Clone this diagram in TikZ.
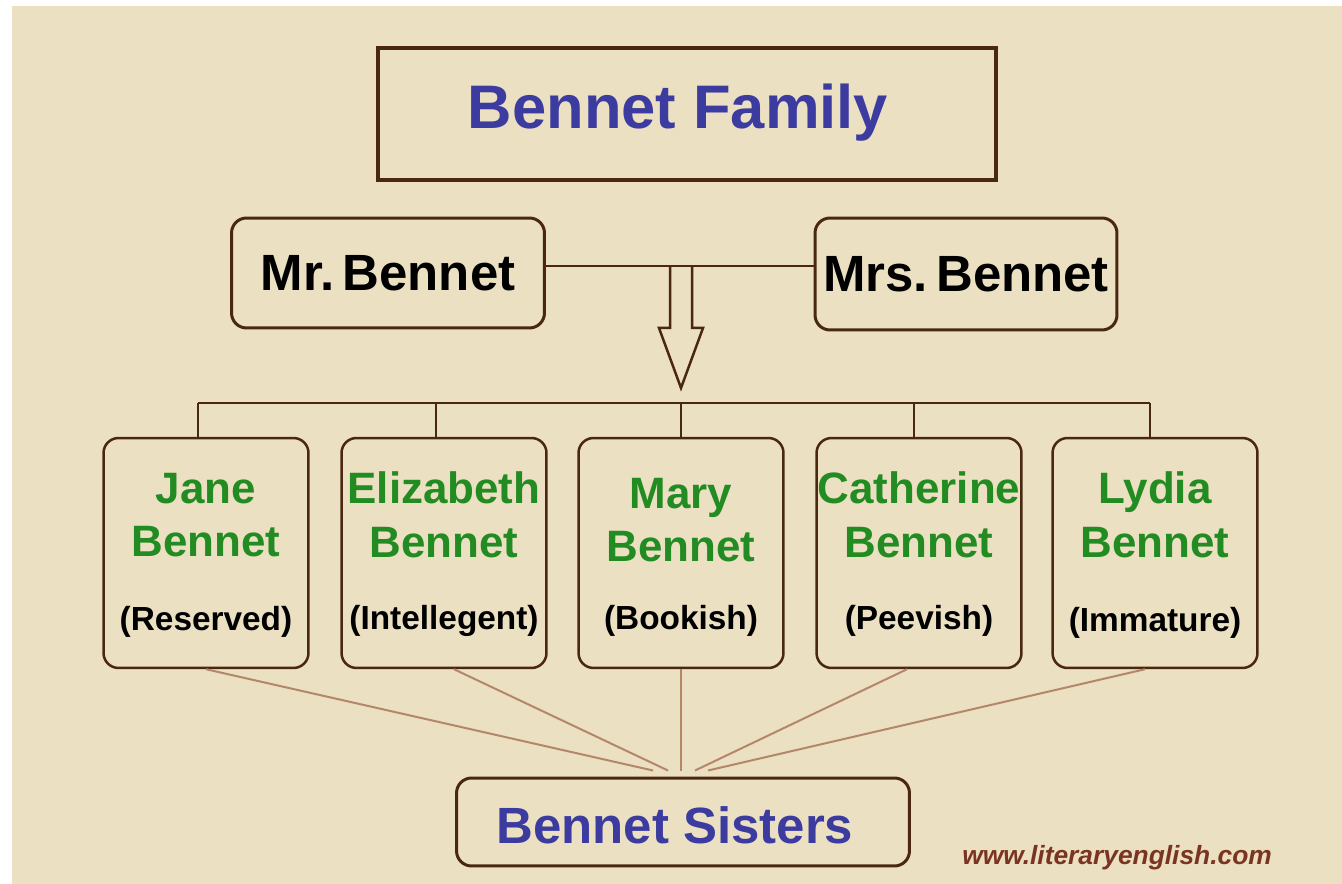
\documentclass[tikz,border=0pt]{standalone}
\usepackage{fontspec}
\setmainfont{Liberation Sans}
\usetikzlibrary{calc}
\definecolor{bgfill}{HTML}{ECE0C2}
\definecolor{boxbrown}{HTML}{4A2810}
\definecolor{fanbrown}{HTML}{B4876A}
\definecolor{famblue}{HTML}{3C3CA0}
\definecolor{namegreen}{HTML}{228C22}
\definecolor{webred}{HTML}{7A3422}
\tikzstyle{titlebox}=[rectangle,draw=boxbrown,line width=.08cm,
  			  minimum width=12.38cm,minimum height=2.64cm,inner sep=0pt]
\tikzstyle{parentbox}=[rectangle,rounded corners=.3cm,draw=boxbrown,line width=.06cm,
  			  minimum height=2.2cm,inner sep=0pt]
\tikzstyle{sisterbox}=[rectangle,rounded corners=.3cm,draw=boxbrown,line width=.05cm,
  			  minimum width=4.1cm,minimum height=4.6cm,inner sep=0pt]
\tikzstyle{nametext}=[align=center,text=namegreen,inner sep=0pt,
  			  font=\fontsize{25}{30.5}\selectfont\bfseries]
\tikzstyle{traittext}=[inner sep=0pt,font=\fontsize{19}{22}\selectfont\bfseries]
\tikzstyle{line}=[boxbrown,line width=.05cm]
\tikzstyle{fan}=[fanbrown,line width=.04cm]

\begin{document}
\begin{tikzpicture}[x=.02cm,y=-.02cm,font=\bfseries]
  \useasboundingbox (0,0) rectangle (1342,884);
  \fill[white] (0,0) rectangle (1342,884);
  \fill[bgfill] (12,6) rectangle (1342,884);

	\node[titlebox] (family) at (687,114) {};
	\node[text=famblue,font=\fontsize{35}{40}\selectfont\bfseries] (familyt) at (678,113) {Bennet Family};

	\node[parentbox,minimum width=6.26cm] (mr) at (388,273) {\fontsize{29}{34}\selectfont Mr.\,Bennet};
	\node[parentbox,minimum width=6.04cm,minimum height=2.24cm] (mrs) at (966,274) {\fontsize{29}{34}\selectfont Mrs.\,Bennet};

	\coordinate (split) at (681,266);
	\coordinate (bus) at (681,403);

	\node[sisterbox] (s1) at (206,553) {};
	\node[sisterbox] (s2) at (444,553) {};
	\node[sisterbox] (s3) at (681,553) {};
	\node[sisterbox] (s4) at (919,553) {};
	\node[sisterbox] (s5) at (1155,553) {};

	\node[nametext] (s1n) at ($(s1)+(0,-38)$) {Jane\\Bennet};
	\node[nametext] (s2n) at ($(s2)+(0,-38)$) {Elizabeth\\Bennet};
	\node[nametext] (s3n) at ($(s3)+(0,-33)$) {Mary\\Bennet};
	\node[nametext] (s4n) at ($(s4)+(0,-38)$) {Catherine\\Bennet};
	\node[nametext] (s5n) at ($(s5)+(0,-38)$) {Lydia\\Bennet};

	\node[traittext] (s1t) at ($(s1)+(0,69)$) {(Reserved)};
	\node[traittext] (s2t) at ($(s2)+(0,68)$) {(Intellegent)};
	\node[traittext] (s3t) at ($(s3)+(0,68)$) {(Bookish)};
	\node[traittext] (s4t) at ($(s4)+(0,68)$) {(Peevish)};
	\node[traittext] (s5t) at ($(s5)+(0,70)$) {(Immature)};

	\node[parentbox,minimum width=9.06cm,minimum height=1.76cm] (sisters) at (683,822) {};
	\node[text=famblue,font=\fontsize{29}{34}\selectfont\bfseries] (sisterst) at (675,825) {Bennet Sisters};

	\node[text=webred,font=\fontsize{15}{18}\selectfont\bfseries\itshape] (web) at (1117,858) {www.literaryenglish.com};

  % parents and the hollow arrow
  \draw[line] (mr.east |- split) -- (mrs.west |- split);
  \draw[line,line join=miter] ($(split)+(-11,0)$) -- ++(0,62) -- ++(-11,0)
		-- ($(split)+(0,122)$) -- ($(split)+(22,62)$) -- ++(-11,0) -- ++(0,-62);

  % bus to the sisters
  \draw[line] ($(s1.north |- bus)+(-8,0)$) -- ($(s5.north |- bus)+(-5,0)$);
  \draw[line] ($(s1.north |- bus)+(-8,0)$) -- ($(s1.north)+(-8,0)$);
  \draw[line] ($(s2.north |- bus)+(-8,0)$) -- ($(s2.north)+(-8,0)$);
  \draw[line] (s3.north |- bus) -- (s3.north);
  \draw[line] ($(s4.north |- bus)+(-5,0)$) -- ($(s4.north)+(-5,0)$);
  \draw[line] ($(s5.north |- bus)+(-5,0)$) -- ($(s5.north)+(-5,0)$);

  % fan into the bottom box
  \draw[fan] (s1.south) -- ($(sisters.north)+(-30,-6)$);
  \draw[fan] ($(s2.south)+(10,0)$) -- ($(sisters.north)+(-15,-6)$);
  \draw[fan] (s3.south) -- ($(sisters.north)+(-2,-6)$);
  \draw[fan] ($(s4.south)+(-12,0)$) -- ($(sisters.north)+(12,-6)$);
  \draw[fan] ($(s5.south)+(-10,0)$) -- ($(sisters.north)+(25,-6)$);
\end{tikzpicture}
\end{document}
